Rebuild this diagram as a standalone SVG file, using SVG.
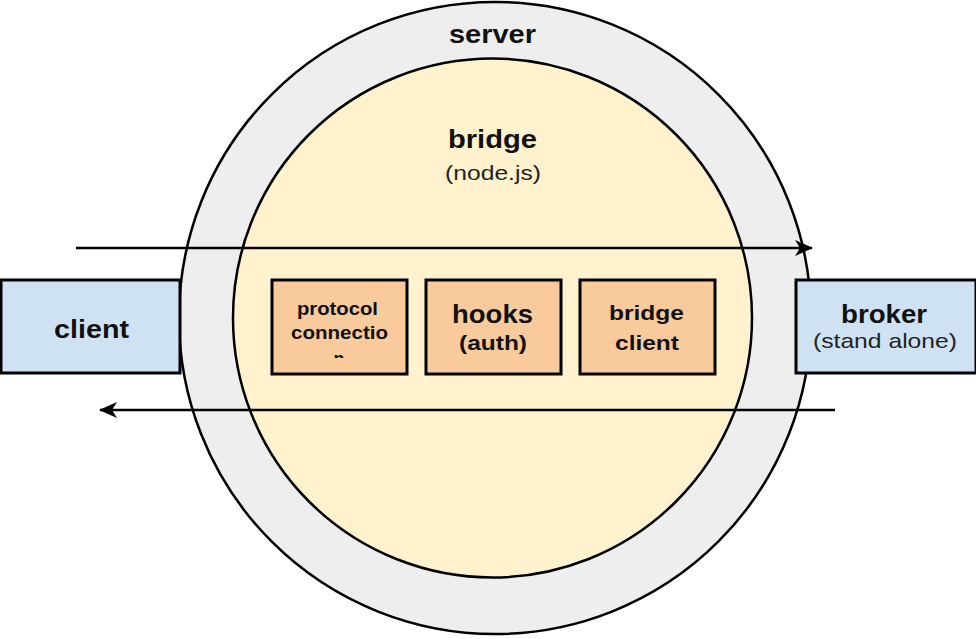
<svg xmlns="http://www.w3.org/2000/svg" width="976" height="639" viewBox="0 0 976 639">
<defs>
<style>
.b{font-family:"Liberation Sans",Arial,sans-serif;font-weight:bold;fill:#111;text-anchor:middle}
.n{font-family:"Liberation Sans",Arial,sans-serif;fill:#222;text-anchor:middle}
.blue{fill:#cfe2f3;stroke:#000;stroke-width:3}
.org{fill:#f9cb9c;stroke:#000;stroke-width:3}
.ln{stroke:#000;stroke-width:2.5;fill:none}
</style>
<marker id="ah" viewBox="0 0 18 16" refX="17" refY="8" markerWidth="18" markerHeight="16" markerUnits="userSpaceOnUse" orient="auto">
<path d="M0,0 L18,8 L0,16 L5,8 Z" fill="#000"/>
</marker>
<clipPath id="c1"><rect x="272" y="280" width="135" height="78"/></clipPath>
</defs>
<rect width="976" height="639" fill="#fff"/>
<g id="server">
<circle cx="495" cy="318" r="316" fill="#eeeeee" stroke="#000" stroke-width="2.5"/>
<text class="b" x="492.5" y="43" font-size="25" textLength="87" lengthAdjust="spacingAndGlyphs">server</text>
</g>
<g id="bridge">
<circle cx="492.5" cy="318" r="259.5" fill="#fff2cc" stroke="#000" stroke-width="2.5"/>
<text class="b" x="492.5" y="148" font-size="25" textLength="89" lengthAdjust="spacingAndGlyphs">bridge</text>
<text class="n" x="493" y="180" font-size="21" textLength="96" lengthAdjust="spacingAndGlyphs">(node.js)</text>
</g>
<g id="client">
<rect class="blue" x="1" y="280" width="179" height="93"/>
<text class="b" x="91.5" y="338" font-size="25" textLength="75" lengthAdjust="spacingAndGlyphs">client</text>
</g>
<g id="broker">
<rect class="blue" x="796" y="280" width="180" height="93"/>
<text class="b" x="884" y="323" font-size="25" textLength="86" lengthAdjust="spacingAndGlyphs">broker</text>
<text class="n" x="885" y="348" font-size="21" textLength="144" lengthAdjust="spacingAndGlyphs">(stand alone)</text>
</g>
<g id="protocol">
<rect class="org" x="272" y="280" width="135" height="94"/>
<g clip-path="url(#c1)">
<text class="b" x="337.5" y="315" font-size="18" textLength="81" lengthAdjust="spacingAndGlyphs">protocol</text>
<text class="b" x="339.5" y="339" font-size="18" textLength="97" lengthAdjust="spacingAndGlyphs">connectio</text>
<text class="b" x="339" y="365" font-size="18">n</text>
</g>
</g>
<g id="hooks">
<rect class="org" x="426" y="280" width="135" height="94"/>
<text class="b" x="492.5" y="323" font-size="26" textLength="81" lengthAdjust="spacingAndGlyphs">hooks</text>
<text class="b" x="493" y="350" font-size="21" textLength="68" lengthAdjust="spacingAndGlyphs">(auth)</text>
</g>
<g id="bridgeclient">
<rect class="org" x="580" y="280" width="135" height="94"/>
<text class="b" x="646.5" y="320" font-size="21" textLength="75" lengthAdjust="spacingAndGlyphs">bridge</text>
<text class="b" x="647" y="350" font-size="21" textLength="64" lengthAdjust="spacingAndGlyphs">client</text>
</g>
<g id="connectors">
<line class="ln" x1="76" y1="248" x2="812" y2="248" marker-end="url(#ah)"/>
<line class="ln" x1="835" y1="410" x2="100" y2="410" marker-end="url(#ah)"/>
</g>
</svg>
